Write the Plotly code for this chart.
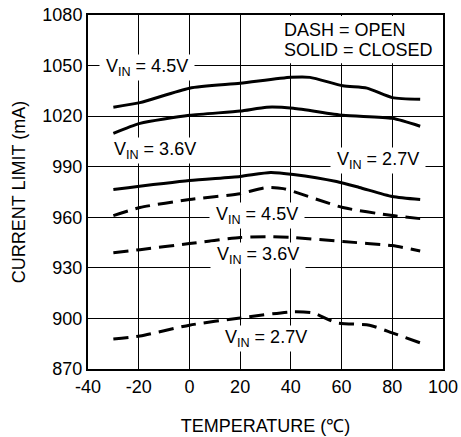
import plotly.graph_objects as go

temp_s45 = [-30, -19.5, 0, 20, 40, 47.5, 60.5, 70, 80, 91]
cur_s45 = [1025.3, 1028, 1036.6, 1039.5, 1043, 1043, 1038, 1036.6, 1031, 1030]

temp_s36 = [-30, -19.5, 0, 20, 30.5, 41, 60.5, 80, 91]
cur_s36 = [1009.8, 1015.7, 1020.5, 1023, 1025.3, 1024.7, 1020.5, 1018.7, 1014]

temp_s27 = [-30, 0, 20, 32, 41, 58, 67, 80, 91]
cur_s27 = [976.5, 981.8, 984.2, 986.6, 985.4, 981.2, 977.7, 972.3, 970.5]

temp_d45 = [-30, -19.5, 0, 20, 30.5, 37, 60.5, 80, 91]
cur_d45 = [961, 965.8, 970.5, 974, 977.7, 977, 965.8, 961, 959.2]

temp_d36 = [-30, -19.5, 0, 20, 30.5, 41, 60.5, 80, 91]
cur_d36 = [939, 940.8, 944.4, 948, 948.5, 948, 945.6, 943.2, 940]

temp_d27 = [-30, -19.5, 0, 20, 41, 48.7, 58, 71, 80, 91]
cur_d27 = [887.8, 889.6, 896, 900.3, 904, 903.3, 897.4, 896, 891.4, 885.5]

x_ticks = [-40, -20, 0, 20, 40, 60, 80, 100]
x_tick_labels = ["-40", "-20", "0", "20", "40", "60", "80", "100"]
y_ticks = [870, 900, 930, 960, 990, 1020, 1050, 1080]

FONT = "Liberation Sans, Arial, sans-serif"
FS = 18

fig = go.Figure()
series = [
    (temp_s45, cur_s45, "solid"),
    (temp_s36, cur_s36, "solid"),
    (temp_s27, cur_s27, "solid"),
    (temp_d45, cur_d45, "15px,8px"),
    (temp_d36, cur_d36, "15px,8px"),
    (temp_d27, cur_d27, "15px,8px"),
]
for xs, ys, dash in series:
    fig.add_trace(go.Scatter(x=xs, y=ys, mode="lines",
                             line=dict(color="black", width=3, dash=dash,
                                       shape="spline", smoothing=0.6),
                             showlegend=False, hoverinfo="skip"))

NB = "\u00a0"
labels = [
    (-16.7, 1049.0, "4.5V"),
    (-13.6, 999.7, "3.6V"),
    (74.4, 993.7, "2.7V"),
    (26.6, 961.0, "4.5V"),
    (27.0, 937.2, "3.6V"),
    (30.2, 887.8, "2.7V"),
]
for lx, ly, v in labels:
    fig.add_annotation(x=lx, y=ly, xref="x", yref="y",
                       text=NB + "V<sub>IN</sub> = " + v + NB,
                       showarrow=False, bgcolor="white", borderpad=1,
                       font=dict(family=FONT, size=FS, color="black"))

# white box behind the line-style key
fig.add_shape(type="rect", xref="x", yref="y", x0=33.7, x1=99.6, y0=1051.4, y1=1079.4,
              fillcolor="white", line=dict(width=0), layer="between")
fig.add_annotation(x=36.5, y=1071.0, xref="x", yref="y", xanchor="left",
                   text="DASH = OPEN", showarrow=False,
                   font=dict(family=FONT, size=FS, color="black"))
fig.add_annotation(x=36.5, y=1059.4, xref="x", yref="y", xanchor="left",
                   text="SOLID = CLOSED", showarrow=False,
                   font=dict(family=FONT, size=FS, color="black"))

fig.update_layout(
    width=461, height=437,
    margin=dict(l=88, r=18, t=15, b=68),
    paper_bgcolor="white", plot_bgcolor="white",
    font=dict(family=FONT, size=FS, color="black"),
)
fig.update_xaxes(range=[-40, 100], tickvals=x_ticks, ticktext=x_tick_labels, ticks="",
                 showgrid=True, gridcolor="black", gridwidth=1,
                 showline=True, linecolor="black", linewidth=2, mirror=True,
                 zeroline=False, automargin=False,
                 title=dict(text="TEMPERATURE (\u2103)", standoff=24,
                            font=dict(family=FONT, size=FS)),
                 tickfont=dict(family=FONT, size=FS))
fig.update_yaxes(range=[870, 1080], tickvals=y_ticks, ticks="",
                 showgrid=True, gridcolor="black", gridwidth=1,
                 showline=True, linecolor="black", linewidth=2, mirror=True,
                 zeroline=False, automargin=False,
                 title=dict(text="CURRENT LIMIT (mA)", standoff=12,
                            font=dict(family=FONT, size=FS)),
                 tickfont=dict(family=FONT, size=FS))

fig.write_html("out.html", config={"displayModeBar": False},
               post_script="document.body.style.margin='0';document.body.style.overflow='hidden';")
